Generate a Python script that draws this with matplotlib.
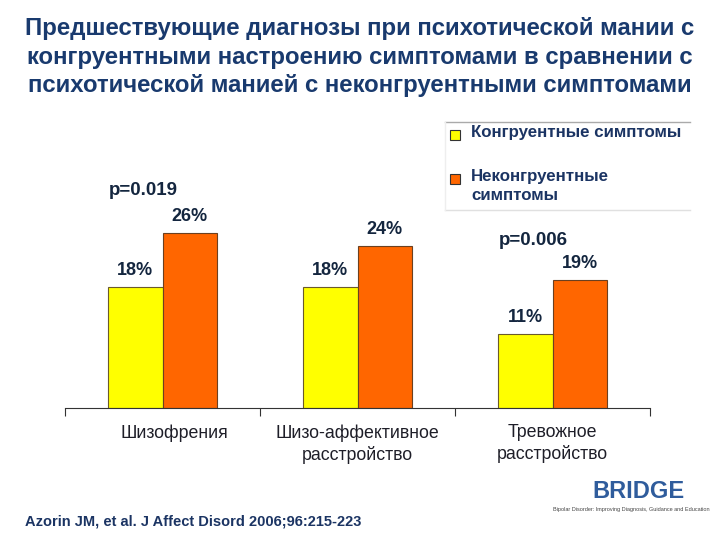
import matplotlib.pyplot as plt
import numpy as np

categories = ['Шизофрения', 'Шизо-аффективное\nрасстройство', 'Тревожное\nрасстройство']
congruent = [18, 18, 11]
incongruent = [26, 24, 19]
series_names = ['Конгруентные симптомы', 'Неконгруентные\nсимптомы']
pvalues = ['p=0.019', None, 'p=0.006']

navy = '#1b3463'
yellow = '#ffff00'
orange = '#ff6600'

plt.rcParams['font.family'] = ['Liberation Sans', 'DejaVu Sans']

fig = plt.figure(figsize=(7.2, 5.4), dpi=100)
ax = fig.add_axes([0.0903, 0.2444, 0.8125, 0.374])

x = np.arange(len(categories))
width = 0.28
b1 = ax.bar(x - width / 2, congruent, width, color=yellow, edgecolor='#6b5a2a', linewidth=0.8)
b2 = ax.bar(x + width / 2, incongruent, width, color=orange, edgecolor='#6b4020', linewidth=0.8)

for bars, vals in ((b1, congruent), (b2, incongruent)):
    for rect, v in zip(bars, vals):
        ax.text(rect.get_x() + rect.get_width() / 2, v + 2.5, '%d%%' % v,
                ha='center', va='center', fontsize=13, fontweight='bold', color='#14263f')

for i, p in enumerate(pvalues):
    if p is None:
        continue
    top = max(congruent[i], incongruent[i])
    ax.text(x[i] - 0.1, top + 6.3 if i == 0 else top + 5.9, p, ha='center', va='center',
            fontsize=13.5, fontweight='bold', color='#14263f')

ax.set_xlim(-0.5, 2.5)
ax.set_ylim(0, 30)
for s in ('top', 'right', 'left'):
    ax.spines[s].set_visible(False)
ax.spines['bottom'].set_color('#333333')
ax.set_yticks([])
ax.set_xticks([-0.5, 0.5, 1.5, 2.5])
ax.set_xticklabels([])
ax.tick_params(axis='x', length=6, color='#333333', direction='out')
for i, c in enumerate(categories):
    ax.text(x[i] + (0.06 if i == 0 else 0), -2.4, c, ha='center', va='top',
            fontsize=12.8, color='#1e1e28', linespacing=1.3)

fig.text(0.5, 0.968, 'Предшествующие диагнозы при психотической мании с\n'
         'конгруентными настроению симптомами в сравнении с\n'
         'психотической манией с неконгруентными симптомами',
         ha='center', va='top', fontsize=17.3, fontweight='bold', color='#193a6e',
         linespacing=1.3)

# legend box
fig.add_artist(plt.Line2D([445 / 720, 690 / 720], [1 - 122 / 540] * 2,
                          color='#aaaaaa', linewidth=1))
fig.add_artist(plt.Line2D([445 / 720, 690 / 720], [1 - 210 / 540] * 2,
                          color='#e0e0e0', linewidth=1))
fig.add_artist(plt.Line2D([445 / 720] * 2, [1 - 122 / 540, 1 - 210 / 540],
                          color='#eeeeee', linewidth=1))
for ypx, col, name in ((135, yellow, series_names[0]), (179, orange, series_names[1])):
    fig.add_artist(plt.Rectangle((450 / 720, 1 - (ypx + 5) / 540), 10 / 720, 10 / 540,
                                 facecolor=col, edgecolor='#333333', linewidth=0.8))
    fig.text(471 / 720, 1 - (ypx - 10) / 540, name, ha='left', va='top',
             fontsize=12.2, fontweight='bold', color=navy, linespacing=1.3)

fig.text(25 / 720, 1 - 521 / 540, 'Azorin JM, et al. J Affect Disord 2006;96:215-223',
         ha='left', va='center', fontsize=10.5, fontweight='bold', color=navy)

fig.text(638 / 720, 1 - 492 / 540, 'BRIDGE', ha='center', va='center',
         fontsize=17, fontweight='bold', color='#2f5c9c')
fig.text(631 / 720, 1 - 510 / 540,
         'Bipolar Disorder: Improving Diagnosis, Guidance and Education',
         ha='center', va='center', fontsize=4, color='#444444')

fig.savefig('out.png', dpi=100)
